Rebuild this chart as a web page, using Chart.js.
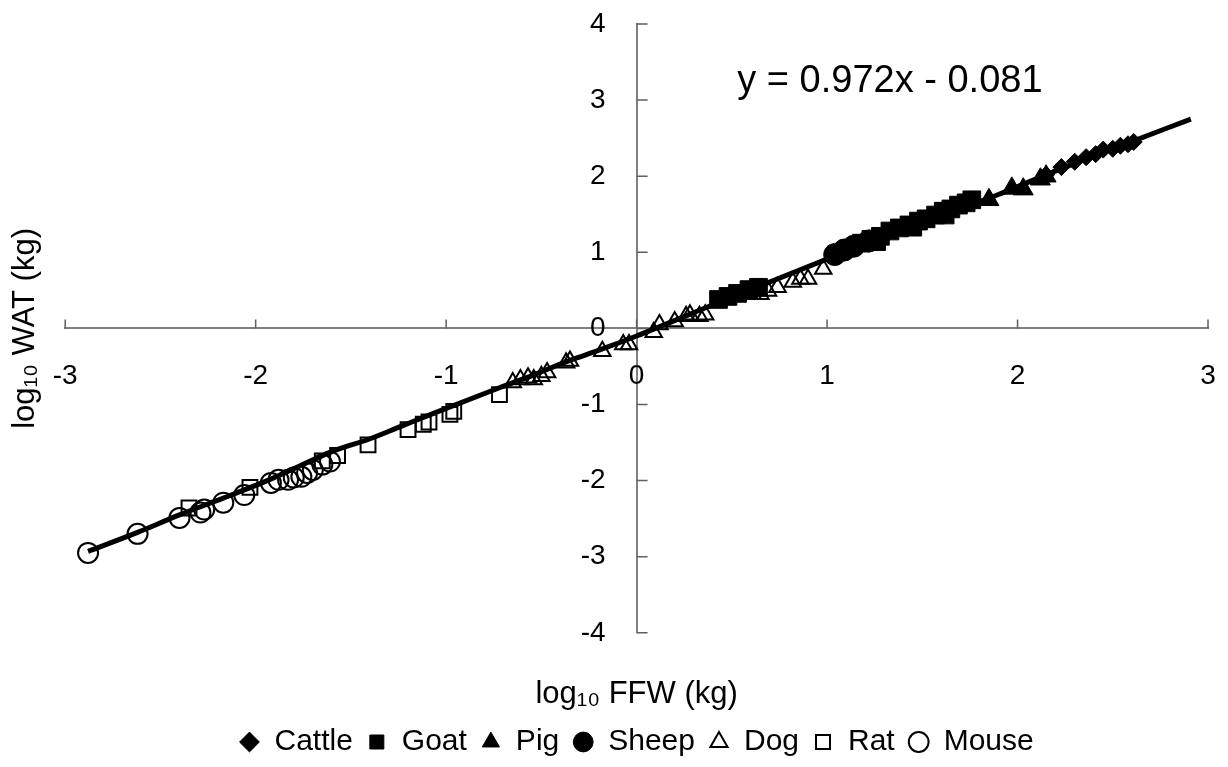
<!DOCTYPE html>
<html>
<head>
<meta charset="utf-8">
<script src="https://cdn.jsdelivr.net/npm/chart.js@4.4.1/dist/chart.umd.min.js"></script>
<style>
	html, body { margin: 0; padding: 0; background: #fff; }
	#wrap { width: 1228px; height: 767px; }
</style>
</head>
<body>
<div id="wrap"><canvas id="graph"></canvas></div>
<script>
// log10 values
const cattleX = [2.15, 2.23, 2.30, 2.36, 2.41, 2.45, 2.50, 2.54, 2.58, 2.61];
const cattleY = [2.02, 2.12, 2.19, 2.25, 2.29, 2.35, 2.36, 2.40, 2.42, 2.45];
const goatX = [0.43, 0.48, 0.53, 0.59, 0.64, 1.18, 1.23, 1.26, 1.28, 1.33, 1.38, 1.43, 1.45, 1.48, 1.52, 1.57, 1.61, 1.62, 1.65, 1.69, 1.73, 1.76];
const goatY = [0.38, 0.42, 0.46, 0.51, 0.54, 1.12, 1.17, 1.14, 1.21, 1.28, 1.32, 1.36, 1.33, 1.41, 1.44, 1.49, 1.54, 1.49, 1.57, 1.62, 1.65, 1.69];
const pigX = [1.85, 1.97, 2.03, 2.12, 2.15];
const pigY = [1.69, 1.84, 1.83, 1.96, 2.00];
const sheepX = [1.04, 1.09, 1.14, 1.22];
const sheepY = [0.97, 1.03, 1.08, 1.15];
const dogX = [-0.65, -0.61, -0.57, -0.54, -0.50, -0.47, -0.37, -0.35, -0.18, -0.07, -0.04, 0.09, 0.12, 0.20, 0.26, 0.28, 0.33, 0.36, 0.61, 0.65, 0.69, 0.74, 0.82, 0.86, 0.90, 0.98];
const dogY = [-0.71, -0.67, -0.65, -0.67, -0.63, -0.58, -0.45, -0.43, -0.30, -0.21, -0.21, -0.05, 0.05, 0.09, 0.16, 0.18, 0.16, 0.18, 0.45, 0.45, 0.49, 0.54, 0.61, 0.65, 0.65, 0.78];
const ratX = [-2.35, -2.03, -1.65, -1.57, -1.41, -1.20, -1.12, -1.09, -0.98, -0.96, -0.72];
const ratY = [-2.36, -2.09, -1.74, -1.67, -1.53, -1.33, -1.26, -1.23, -1.13, -1.09, -0.87];
const mouseX = [-2.88, -2.62, -2.40, -2.29, -2.27, -2.17, -2.06, -1.92, -1.88, -1.83, -1.80, -1.76, -1.73, -1.70, -1.65, -1.61];
const mouseY = [-2.95, -2.70, -2.49, -2.42, -2.38, -2.29, -2.19, -2.03, -1.99, -1.99, -1.96, -1.95, -1.90, -1.86, -1.79, -1.75];
const fitX = [-2.88, -2.62, -2.40, -2.17, -1.93, -1.57, -1.41, -1.24, -1.06, -0.72, -0.54, -0.36, -0.19, 0.00, 0.44, 0.96, 1.50, 1.89, 2.19, 2.50, 2.91];
const fitY = [-2.93, -2.68, -2.45, -2.23, -1.99, -1.59, -1.46, -1.29, -1.11, -0.78, -0.61, -0.43, -0.28, -0.10, 0.35, 0.87, 1.40, 1.75, 2.06, 2.36, 2.75];

const xTitle = "log\u2081\u2080 FFW (kg)";
const yTitle = "log\u2081\u2080 WAT (kg)";
const equation = "y = 0.972x - 0.081";
const fontFamily = "'Liberation Sans', Arial, sans-serif";

function pts(xs, ys)
{
	let out = [];
	for(let i = 0; i < xs.length; i++)
		out.push({x: xs[i], y: ys[i]});
	return out;
}

function marker(label, xs, ys, style, filled, r)
{
	return {
		label: label,
		data: pts(xs, ys),
		pointStyle: style,
		pointRadius: r,
		backgroundColor: filled ? "#000" : "rgba(0,0,0,0)",
		borderColor: "#000",
		borderWidth: filled ? 1 : 2
	};
}

// axes cross at 0: tick marks point inward, labels sit away from the lines
const axisExtras = {
	id: "axisExtras",
	beforeDatasetsDraw(chart){
		let ctx = chart.ctx;
		let xs = chart.scales.x, ys = chart.scales.y;
		let x0 = xs.getPixelForValue(0), y0 = ys.getPixelForValue(0);
		ctx.save();
		ctx.strokeStyle = "#606060";
		ctx.lineWidth = 1.5;
		ctx.beginPath();
		for(let t of xs.ticks){
			let px = xs.getPixelForValue(t.value);
			ctx.moveTo(px, y0);
			ctx.lineTo(px, y0 - 9);
		}
		for(let t of ys.ticks){
			let py = ys.getPixelForValue(t.value);
			ctx.moveTo(x0, py);
			ctx.lineTo(x0 + 11, py);
		}
		ctx.stroke();
		ctx.fillStyle = "#000";
		ctx.font = "28px " + fontFamily;
		ctx.textBaseline = "middle";
		ctx.textAlign = "center";
		for(let t of xs.ticks)
			ctx.fillText(t.label, xs.getPixelForValue(t.value), y0 + 48);
		ctx.textAlign = "right";
		for(let t of ys.ticks)
			ctx.fillText(t.label, x0 - 31, ys.getPixelForValue(t.value));
		ctx.restore();
	},
	afterDraw(chart){
		let ctx = chart.ctx;
		ctx.save();
		ctx.font = "38px " + fontFamily;
		ctx.fillStyle = "#000";
		ctx.textAlign = "center";
		ctx.textBaseline = "alphabetic";
		ctx.fillText(equation, chart.scales.x.getPixelForValue(1.33), chart.scales.y.getPixelForValue(3.1));
		ctx.restore();
	}
};

Chart.defaults.font.family = fontFamily;
Chart.defaults.color = "#000";

let graph = document.getElementById("graph").getContext("2d");
let myChart = new Chart(graph, {
	type: "scatter",
	data: {
		datasets: [
			marker("Cattle", cattleX, cattleY, "rectRot", true, 8.5),
			marker("Goat", goatX, goatY, "rect", true, 12.5),
			marker("Pig", pigX, pigY, "triangle", true, 11.5),
			marker("Sheep", sheepX, sheepY, "circle", true, 11),
			marker("Dog", dogX, dogY, "triangle", false, 9.5),
			marker("Rat", ratX, ratY, "rect", false, 10.5),
			marker("Mouse", mouseX, mouseY, "circle", false, 10),
			{
				label: "fit",
				type: "line",
				data: pts(fitX, fitY),
				borderColor: "#000",
				borderWidth: 5,
				pointRadius: 0,
				fill: false,
				cubicInterpolationMode: "monotone",
				order: -1
			}
		]
	},
	options: {
		responsive: true,
		maintainAspectRatio: false,
		animation: false,
		events: [],
		layout: {padding: {left: 3, right: 20, top: 24, bottom: 0}},
		scales: {
			x: {
				type: "linear",
				position: {y: 0},
				min: -3,
				max: 3,
				ticks: {stepSize: 1, display: false},
				grid: {display: true, drawOnChartArea: false, drawTicks: false},
				border: {color: "#808080", width: 2}
			},
			y: {
				type: "linear",
				position: {x: 0},
				min: -4,
				max: 4,
				ticks: {stepSize: 1, display: false},
				grid: {display: true, drawOnChartArea: false, drawTicks: false},
				border: {color: "#808080", width: 2}
			}
		},
		plugins: {
			tooltip: {enabled: false},
			title: {
				display: true,
				position: "bottom",
				text: xTitle,
				weight: 500,
				fullSize: false,
				font: {size: 31, weight: "normal"},
				color: "#000",
				padding: {top: 43, bottom: 0}
			},
			subtitle: {
				display: true,
				position: "left",
				text: yTitle,
				fullSize: false,
				font: {size: 31, weight: "normal"},
				color: "#000",
				padding: {top: 4, bottom: 21}
			},
			legend: {
				display: true,
				position: "bottom",
				fullSize: false,
				labels: {
					usePointStyle: true,
					boxHeight: 14,
					boxWidth: 20,
					padding: 14,
					font: {size: 30},
					color: "#000",
					filter: (item) => item.datasetIndex < 7
				}
			}
		}
	},
	plugins: [axisExtras]
});
</script>
</body>
</html>
